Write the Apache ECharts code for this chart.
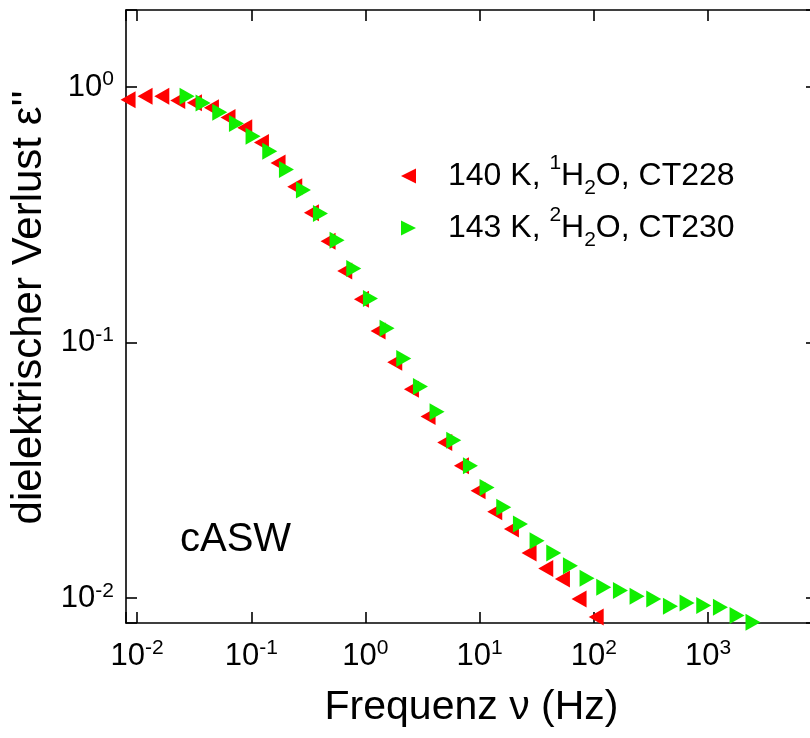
<!DOCTYPE html>
<html>
<head>
<meta charset="utf-8">
<script src="https://cdn.jsdelivr.net/npm/echarts@6/dist/echarts.min.js"></script>
<style>
html,body{margin:0;padding:0;background:#fff;}
#chart{width:810px;height:738px;}
</style>
</head>
<body>
<div id="chart"></div>
<script>
// ---- data ----
var redFreq = [0.00834, 0.01175, 0.01646, 0.02272, 0.0318, 0.0448, 0.0626, 0.0877, 0.1228, 0.1717,
  0.2404, 0.3366, 0.4706, 0.6589, 0.9226, 1.289, 1.805, 2.528, 3.534, 4.948,
  6.928, 9.683, 13.56, 18.99, 27.08, 37.92, 53.09, 74.21, 104.9];
var redLoss = [0.892, 0.919, 0.919, 0.886, 0.868, 0.830, 0.759, 0.693, 0.606, 0.504,
  0.407, 0.322, 0.249, 0.1904, 0.1476, 0.1110, 0.0838, 0.0657, 0.0514, 0.0407,
  0.0330, 0.0263, 0.0218, 0.01866, 0.01503, 0.01307, 0.01190, 0.00994, 0.00845];
var greenFreq = [0.02741, 0.03784, 0.05298, 0.07420, 0.1037, 0.1452, 0.2033, 0.2865, 0.4036, 0.5642,
  0.7897, 1.106, 1.546, 2.165, 3.031, 4.236, 5.933, 8.307, 11.61, 16.26,
  22.77, 31.82, 44.56, 62.39, 87.22, 122.1, 171.0, 239.0, 334.6, 468.6,
  654.9, 917.1, 1284, 1795, 2477];
var greenLoss = [0.919, 0.866, 0.796, 0.719, 0.641, 0.560, 0.475, 0.395, 0.320, 0.2516,
  0.1951, 0.1489, 0.1137, 0.0866, 0.0673, 0.0536, 0.0415, 0.0330, 0.0271, 0.02267,
  0.01951, 0.01679, 0.01503, 0.01341, 0.01197, 0.01104, 0.01071, 0.01018, 0.00994, 0.00930,
  0.00958, 0.00936, 0.00922, 0.00855, 0.00806];
var seriesNames = ['140 K, 1H2O, CT228', '143 K, 2H2O, CT230'];
var xTickValues = [0.01, 0.1, 1, 10, 100, 1000];
var yTickValues = [0.01, 0.1, 1];

function pairs(xs, ys) { return xs.map(function (x, i) { return [x, ys[i]]; }); }

var FONT = '"Liberation Sans", Arial, Helvetica, sans-serif';

function powLabel(v) {
  var l = Math.log10(v);
  var e = Math.round(l);
  if (Math.abs(l - e) > 1e-6) return '';
  var s = e < 0 ? '-' + Math.abs(e) : String(e);
  return '{b|10}{s|' + s + '}';
}
var tickRich = {
  b: { fontSize: 31, fontFamily: FONT, color: '#000', lineHeight: 36, verticalAlign: 'middle' },
  s: { fontSize: 21, fontFamily: FONT, color: '#000', lineHeight: 18, verticalAlign: 'top' }
};

var legendRich = {
  p: { fontSize: 32, fontFamily: FONT, color: '#000', lineHeight: 46, verticalAlign: 'middle', padding: [0, 0, 0, 27] },
  n: { fontSize: 32, fontFamily: FONT, color: '#000', lineHeight: 46, verticalAlign: 'middle' },
  sup: { fontSize: 21, fontFamily: FONT, color: '#000', lineHeight: 32, verticalAlign: 'top' },
  sub: { fontSize: 21, fontFamily: FONT, color: '#000', lineHeight: 21, verticalAlign: 'bottom' }
};
function legendFormatter(name) {
  var m = name.match(/^(\d+ K, )(\d)H2O(, CT\d+)$/);
  return '{p|' + m[1] + '}{sup|' + m[2] + '}{n|H}{sub|2}{n|O' + m[3] + '}';
}

var axisLineStyle = { color: '#000', width: 1.6 };
function baseAxis(extra) {
  var a = {
    type: 'log', logBase: 10,
    axisLine: { show: true, onZero: false, lineStyle: axisLineStyle },
    axisTick: { show: true, inside: true, length: 11, lineStyle: { color: '#000', width: 1.6 } },
    minorTick: { show: false },
    splitLine: { show: false },
    minorSplitLine: { show: false }
  };
  for (var k in extra) a[k] = extra[k];
  return a;
}

var chart = echarts.init(document.getElementById('chart'), null, { renderer: 'canvas' });
var LEFT_TRI = 'path://M0,5L10,0L10,10Z';
var RIGHT_TRI = 'path://M0,0L10,5L0,10Z';

chart.setOption({
  animation: false,
  backgroundColor: '#fff',
  grid: { left: 126, top: 10, width: 691, height: 613, containLabel: false, outerBoundsMode: 'none' },
  xAxis: [
    baseAxis({
      position: 'bottom', min: 0.008, max: 9000,
      axisLabel: { show: true, margin: 15, formatter: powLabel, rich: tickRich },
      name: 'Frequenz \u03bd (Hz)', nameLocation: 'middle', nameGap: 64,
      nameTextStyle: { fontSize: 41, fontFamily: FONT, color: '#000' }
    }),
    baseAxis({
      position: 'top', min: 0.008, max: 9000,
      axisLabel: { show: false }
    })
  ],
  yAxis: [
    baseAxis({
      position: 'left', min: 0.008, max: 2,
      axisLabel: { show: true, margin: 12, formatter: powLabel, rich: tickRich },
      name: 'dielektrischer Verlust \u03b5\'\'', nameLocation: 'middle', nameGap: 72,
      nameTextStyle: { fontSize: 42, fontFamily: FONT, color: '#000', padding: [0, 0, 0, 18] }
    }),
    baseAxis({
      position: 'right', min: 0.008, max: 2,
      axisLabel: { show: false }
    })
  ],
  legend: {
    orient: 'vertical', left: 401, top: 153, itemGap: 6, padding: 0,
    itemWidth: 15, itemHeight: 17,
    data: [{ name: seriesNames[0], icon: LEFT_TRI }, { name: seriesNames[1], icon: RIGHT_TRI }],
    formatter: legendFormatter,
    textStyle: { rich: legendRich, fontSize: 32, fontFamily: FONT, color: '#000' },
    selectedMode: false
  },
  graphic: [{
    type: 'text', left: 180, top: 520,
    style: { text: 'cASW', fontSize: 40, fontFamily: FONT, fill: '#000' }
  }],
  series: [
    {
      name: seriesNames[0], type: 'scatter', xAxisIndex: 0, yAxisIndex: 0,
      symbol: LEFT_TRI, symbolSize: [15, 17], clip: false,
      itemStyle: { color: '#ff0000', opacity: 1 },
      data: pairs(redFreq, redLoss)
    },
    {
      name: seriesNames[1], type: 'scatter', xAxisIndex: 0, yAxisIndex: 0,
      symbol: RIGHT_TRI, symbolSize: [15, 17], clip: false,
      itemStyle: { color: '#11ee00', opacity: 1 },
      data: pairs(greenFreq, greenLoss)
    }
  ]
});
</script>
</body>
</html>
